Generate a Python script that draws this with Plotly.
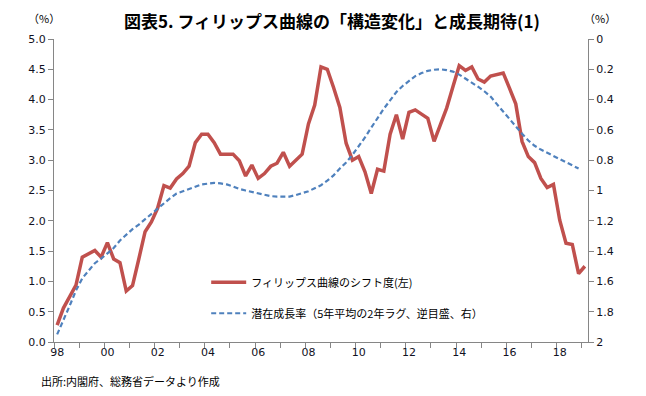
import plotly.graph_objects as go

# Quarterly categories 1998Q1 .. 2019Q1
years = list(range(1998, 2020))
quarters = [(y, q) for y in years for q in range(1, 5)][:85]

# Phillips-curve shift (left axis, %)
shift = [0.28, 0.56, 0.75, 0.94, 1.40, 1.45, 1.51, 1.40, 1.64, 1.37,
         1.31, 0.84, 0.93, 1.37, 1.82, 1.98, 2.21, 2.58, 2.54, 2.69,
         2.78, 2.90, 3.29, 3.43, 3.43, 3.29, 3.10, 3.10, 3.10, 2.99,
         2.74, 2.92, 2.70, 2.78, 2.90, 2.95, 3.13, 2.90, 3.00, 3.10,
         3.60, 3.91, 4.54, 4.50, 4.20, 3.87, 3.28, 3.00, 3.06, 2.81,
         2.45, 2.85, 2.82, 3.43, 3.75, 3.35, 3.79, 3.83, 3.76, 3.69,
         3.31, 3.58, 3.86, 4.21, 4.56, 4.48, 4.54, 4.34, 4.29, 4.39,
         4.41, 4.44, 4.19, 3.93, 3.31, 3.06, 2.96, 2.70, 2.55, 2.60,
         2.01, 1.63, 1.61, 1.13, 1.25]

# Potential growth rate (right axis, reversed, %), 1998Q1 .. 2018Q4
potential = [1.95, 1.86, 1.76, 1.66, 1.58, 1.53, 1.48, 1.45, 1.415, 1.38,
             1.33, 1.29, 1.255, 1.225, 1.19, 1.15, 1.115, 1.08, 1.05, 1.02,
             1.005, 0.99, 0.975, 0.96, 0.955, 0.95, 0.953, 0.96, 0.973, 0.99,
             1.00, 1.01, 1.02, 1.03, 1.037, 1.04, 1.04, 1.04, 1.03, 1.02,
             1.005, 0.985, 0.965, 0.935, 0.90, 0.855, 0.815, 0.765, 0.71, 0.65,
             0.585, 0.52, 0.46, 0.405, 0.35, 0.31, 0.275, 0.245, 0.225, 0.21,
             0.203, 0.20, 0.205, 0.215, 0.235, 0.26, 0.29, 0.315, 0.345, 0.38,
             0.43, 0.48, 0.53, 0.58, 0.625, 0.67, 0.705, 0.73, 0.75, 0.77,
             0.79, 0.81, 0.835, 0.855]

x_tick_labels = ["98", "00", "02", "04", "06", "08", "10", "12", "14", "16", "18"]
left_ticks = [0.0, 0.5, 1.0, 1.5, 2.0, 2.5, 3.0, 3.5, 4.0, 4.5, 5.0]
right_ticks = [0, 0.2, 0.4, 0.6, 0.8, 1, 1.2, 1.4, 1.6, 1.8, 2]

x_shift = [y + (q - 1) / 4 + 0.125 for (y, q) in quarters[:len(shift)]]
x_pot = [y + (q - 1) / 4 + 0.125 for (y, q) in quarters[:len(potential)]]

tick_font = dict(family="DejaVu Sans", size=11, color="#111122")
jp = "Noto Sans CJK JP"
axis_col = "#868686"

fig = go.Figure()
fig.add_trace(go.Scatter(
    x=x_shift, y=shift, mode="lines", name="フィリップス曲線のシフト度(左)",
    line=dict(color="#C0504D", width=3.5), legendgroup="a"))
fig.add_trace(go.Scatter(
    x=x_pot, y=potential, mode="lines", yaxis="y2",
    name="潜在成長率（5年平均の2年ラグ、逆目盛、右）",
    line=dict(color="#4F81BD", width=2.2, dash="5px,3px"), legendgroup="b"))

# The page body adds an 8px offset, so the figure is 8px smaller with margins adjusted
fig.update_layout(
    width=638, height=388,
    margin=dict(l=46, r=58, t=31, b=54),
    paper_bgcolor="white", plot_bgcolor="white",
    showlegend=True,
    legend=dict(x=0.285, y=0.245, xanchor="left", yanchor="top",
                bgcolor="rgba(0,0,0,0)", font=dict(family=jp, size=11, color="#000"),
                tracegroupgap=12, itemwidth=35),
    xaxis=dict(range=[1998, 2019.25], showgrid=False, zeroline=False,
               showline=True, linecolor=axis_col, linewidth=1,
               tickvals=[1998 + 2 * i + 0.125 for i in range(len(x_tick_labels))],
               ticktext=x_tick_labels, ticks="", tickfont=tick_font,
               minor=dict(tick0=1998, dtick=1, ticks="outside", ticklen=5,
                          tickcolor=axis_col, showgrid=False)),
    yaxis=dict(range=[0, 5], showgrid=False, zeroline=False,
               showline=True, linecolor=axis_col, linewidth=1,
               tickvals=left_ticks, ticktext=[f"{v:.1f}" for v in left_ticks],
               ticks="outside", ticklen=5, tickcolor=axis_col, tickfont=tick_font),
    yaxis2=dict(range=[2, 0], overlaying="y", side="right", showgrid=False,
                zeroline=False, showline=True, linecolor=axis_col, linewidth=1,
                tickvals=right_ticks, ticktext=[f"{v:g}" for v in right_ticks],
                ticks="outside", ticklen=5, tickcolor=axis_col, tickfont=tick_font),
)

fig.add_annotation(text="<b>図表5. フィリップス曲線の「構造変化」と成長期待(1)</b>",
                   xref="paper", yref="paper", x=0.52, y=1, yshift=19,
                   xanchor="center", yanchor="middle", showarrow=False,
                   font=dict(family=jp, size=17, color="#000"))
fig.add_annotation(text="（%）", xref="paper", yref="paper", x=0, y=1, xshift=-10, yshift=21,
                   xanchor="center", yanchor="middle", showarrow=False,
                   font=dict(family=jp, size=11, color="#000"))
fig.add_annotation(text="（%）", xref="paper", yref="paper", x=1, y=1, xshift=12, yshift=21,
                   xanchor="center", yanchor="middle", showarrow=False,
                   font=dict(family=jp, size=11, color="#000"))
fig.add_annotation(text="出所:内閣府、総務省データより作成", xref="paper", yref="paper",
                   x=0, y=0, xshift=-15, yshift=-39, xanchor="left", yanchor="middle",
                   showarrow=False, font=dict(family=jp, size=11, color="#000"))

fig.write_html("out.html")
